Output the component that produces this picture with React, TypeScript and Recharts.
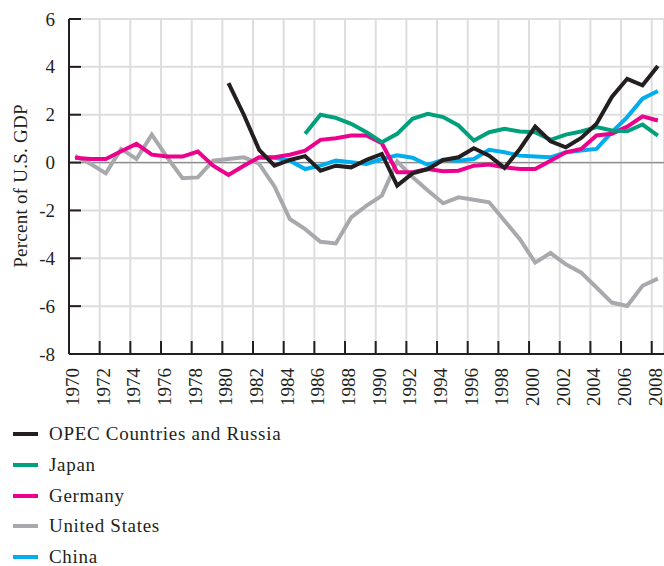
import React from 'react';
import { LineChart, Line, XAxis, YAxis, CartesianGrid, ReferenceLine, Legend } from 'recharts';

const years = [
  1970, 1971, 1972, 1973, 1974, 1975, 1976, 1977, 1978, 1979,
  1980, 1981, 1982, 1983, 1984, 1985, 1986, 1987, 1988, 1989,
  1990, 1991, 1992, 1993, 1994, 1995, 1996, 1997, 1998, 1999,
  2000, 2001, 2002, 2003, 2004, 2005, 2006, 2007, 2008,
];

const opec = [
  null, null, null, null, null, null, null, null, null, null,
  3.32, 2.0, 0.53, -0.13, 0.11, 0.27, -0.34, -0.13, -0.2, 0.11,
  0.36, -0.96, -0.45, -0.27, 0.11, 0.22, 0.6, 0.29, -0.22, 0.57,
  1.5, 0.89, 0.64, 1.03, 1.62, 2.74, 3.5, 3.23, 4.04,
];

const japan = [
  null, null, null, null, null, null, null, null, null, null,
  null, null, null, null, null, 1.2, 2.0, 1.87, 1.62, 1.27,
  0.85, 1.2, 1.83, 2.04, 1.9, 1.55, 0.92, 1.27, 1.41, 1.3,
  1.27, 0.95, 1.17, 1.3, 1.48, 1.34, 1.31, 1.59, 1.13,
];

const germany = [
  0.2, 0.15, 0.15, 0.47, 0.78, 0.33, 0.25, 0.25, 0.46, -0.13,
  -0.52, -0.13, 0.22, 0.22, 0.33, 0.5, 0.95, 1.02, 1.13, 1.13,
  0.81, -0.4, -0.4, -0.27, -0.36, -0.34, -0.13, -0.08, -0.2, -0.27,
  -0.27, 0.08, 0.43, 0.57, 1.13, 1.2, 1.5, 1.93, 1.76,
];

const unitedStates = [
  0.28, -0.05, -0.45, 0.57, 0.15, 1.17, 0.22, -0.65, -0.62, 0.08,
  0.15, 0.22, -0.05, -1.0, -2.36, -2.78, -3.31, -3.38, -2.29, -1.8,
  -1.38, 0.05, -0.6, -1.17, -1.7, -1.45, -1.55, -1.66, -2.43, -3.2,
  -4.18, -3.78, -4.25, -4.6, -5.22, -5.85, -5.99, -5.15, -4.85,
];

const china = [
  null, null, null, null, null, null, null, null, null, null,
  null, null, 0.2, 0.2, 0.08, -0.27, -0.13, 0.08, 0.01, -0.06,
  0.15, 0.3, 0.2, -0.1, 0.12, 0.08, 0.15, 0.53, 0.43, 0.29,
  0.25, 0.22, 0.43, 0.5, 0.57, 1.27, 1.9, 2.67, 2.99,
];

const xTicks = [1970, 1972, 1974, 1976, 1978, 1980, 1982, 1984, 1986, 1988, 1990, 1992, 1994, 1996, 1998, 2000, 2002, 2004, 2006, 2008];
const yTicks = [-8, -6, -4, -2, 0, 2, 4, 6];

const seriesInfo = [
  { key: 'opec', name: 'OPEC Countries and Russia', color: '#231f20' },
  { key: 'japan', name: 'Japan', color: '#00a07c' },
  { key: 'germany', name: 'Germany', color: '#ec008c' },
  { key: 'us', name: 'United States', color: '#a7a9ac' },
  { key: 'china', name: 'China', color: '#00aeef' },
];

// annual observations are plotted slightly after the year gridline
const data = years.map((yr, i) => ({
  t: yr + 0.4,
  opec: opec[i],
  japan: japan[i],
  germany: germany[i],
  us: unitedStates[i],
  china: china[i],
}));

const FONT = '"Liberation Serif", "Times New Roman", Times, serif';
const INK = '#231f20';

const YTick = (props: any) => {
  const { x, y, payload } = props;
  return (
    <g>
      <line x1={x} x2={x + 12} y1={y} y2={y} stroke={INK} strokeWidth={2} />
      <text x={x - 14} y={y} textAnchor="end" dominantBaseline="central" fontSize={19} fill={INK} fontFamily={FONT}>
        {payload.value}
      </text>
    </g>
  );
};

const XTick = (props: any) => {
  const { x, y, payload } = props;
  return (
    <g>
      <line x1={x} x2={x} y1={y} y2={y - 13} stroke={INK} strokeWidth={2} />
      <text
        x={x + 3.5}
        y={y + 14}
        transform={`rotate(-90, ${x + 3.5}, ${y + 14})`}
        textAnchor="end"
        dominantBaseline="central"
        fontSize={19}
        fill={INK}
        fontFamily={FONT}
      >
        {payload.value}
      </text>
    </g>
  );
};

const LegendContent = () => (
  <div style={{ fontFamily: FONT, fontSize: 19, color: INK, letterSpacing: 0.7 }}>
    {seriesInfo.map((s) => (
      <div key={s.key} style={{ height: 30.8, display: 'flex', alignItems: 'center' }}>
        <div style={{ width: 25, height: 4, background: s.color, marginLeft: 13, marginRight: 11 }} />
        <span>{s.name}</span>
      </div>
    ))}
  </div>
);

const YLabel = () => (
  <text
    x={20}
    y={186}
    transform="rotate(-90, 20, 186)"
    textAnchor="middle"
    dominantBaseline="central"
    fontSize={19}
    letterSpacing={0.25}
    fill={INK}
    fontFamily={FONT}
  >
    Percent of U.S. GDP
  </text>
);

export default function App() {
  return (
    <div style={{ position: 'absolute', left: 0, top: 0, width: 664, height: 566 }}>
      <LineChart width={664} height={566} data={data} margin={{ top: 19, right: 0, left: 0, bottom: 152 }}>
        <CartesianGrid stroke="#dedede" strokeWidth={2} />
        <XAxis
          dataKey="t"
          type="number"
          domain={[1970, 2008.8]}
          ticks={xTicks}
          interval={0}
          height={60}
          tickSize={0}
          tickMargin={0}
          tick={<XTick />}
          axisLine={{ stroke: INK, strokeWidth: 2 }}
          allowDataOverflow
        />
        <YAxis
          type="number"
          domain={[-8, 6]}
          ticks={yTicks}
          interval={0}
          width={69}
          tickSize={0}
          tickMargin={0}
          tick={<YTick />}
          axisLine={{ stroke: INK, strokeWidth: 2 }}
          label={{ content: () => <YLabel /> }}
          allowDataOverflow
        />
        <ReferenceLine y={0} stroke="#8c8c8c" strokeWidth={1.3} />
        <Line dataKey="us" name="United States" stroke="#a7a9ac" strokeWidth={4} dot={false} isAnimationActive={false} />
        <Line dataKey="china" name="China" stroke="#00aeef" strokeWidth={4} dot={false} isAnimationActive={false} />
        <Line dataKey="germany" name="Germany" stroke="#ec008c" strokeWidth={4} dot={false} isAnimationActive={false} />
        <Line dataKey="japan" name="Japan" stroke="#00a07c" strokeWidth={4} dot={false} isAnimationActive={false} />
        <Line dataKey="opec" name="OPEC Countries and Russia" stroke="#231f20" strokeWidth={4} dot={false} isAnimationActive={false} />
        <Legend
          layout="horizontal"
          verticalAlign="middle"
          align="center"
          content={<LegendContent />}
          wrapperStyle={{ position: 'absolute', top: 418.6, left: 0, width: 400, height: 160 }}
        />
      </LineChart>
    </div>
  );
}
